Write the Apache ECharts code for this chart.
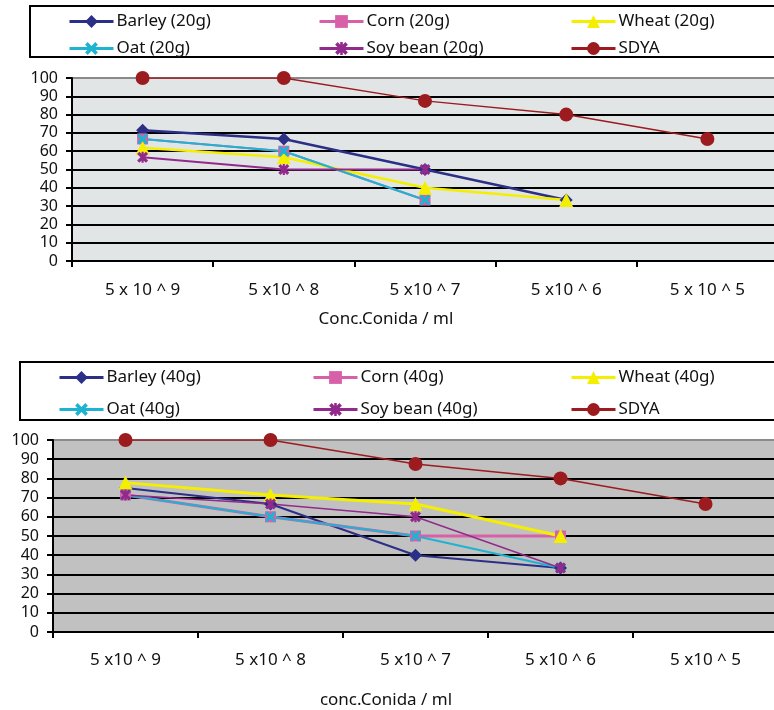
<!DOCTYPE html>
<html>
<head>
<meta charset="utf-8">
<script src="https://cdn.jsdelivr.net/npm/echarts@6/dist/echarts.min.js"></script>
<style>html,body{margin:0;padding:0;background:#fff}#c{width:774px;height:710px}</style>
</head>
<body>
<div id="c"></div>
<script>
const catsTop = ['5 x 10 ^ 9','5 x10 ^ 8','5 x10 ^ 7','5 x10 ^ 6','5 x 10 ^ 5'];
const catsBottom = ['5 x10 ^ 9','5 x10 ^ 8','5 x10 ^ 7','5 x10 ^ 6','5 x10 ^ 5'];
const yTicks = [0,10,20,30,40,50,60,70,80,90,100];

const barley20 = [71.4, 66.7, 50, 33.3, null];
const corn20   = [66.7, 60, 33.3, null, null];
const wheat20  = [61.9, 56.7, 40, 33.3, null];
const oat20    = [66.7, 60, 33.3, null, null];
const soy20    = [56.7, 50, 50, null, null];
const sdya20   = [100, 100, 87.5, 80, 66.7];

const barley40 = [75, 66.7, 40, 33.3, null];
const corn40   = [71.4, 60, 50, 50, null];
const wheat40  = [77.8, 71.4, 66.7, 50, null];
const oat40    = [71.4, 60, 50, 33.3, null];
const soy40    = [71.4, 66.7, 60, 33.3, null];
const sdya40   = [100, 100, 87.5, 80, 66.7];

const FONT = "'Noto Sans', 'Liberation Sans', sans-serif";
const C = {barley:'#2b2f86', corn:'#d860a8', wheat:'#f4ef00', oat:'#1fb3d2', soy:'#922a8c', sdya:'#9b1b1f'};
const X_PATH = 'path://M2,0 L5,3 L8,0 L10,2 L7,5 L10,8 L8,10 L5,7 L2,10 L0,8 L3,5 L0,2 Z';
const AST_PATH = 'path://M2,0 L5,3 L8,0 L10,2 L7,5 L10,8 L8,10 L5,7 L2,10 L0,8 L3,5 L0,2 Z M4,0 L6,0 L6,10 L4,10 Z';

function mk(name, data, idx, color, symbol, size, width) {
  return {
    name, type:'line', data, xAxisIndex: idx, yAxisIndex: idx,
    symbol, symbolSize: size, showSymbol: true,
    lineStyle:{color, width}, itemStyle:{color, borderWidth:0},
    connectNulls:false, animation:false
  };
}

function xAxis(idx, cats, margin) {
  return {
    type:'category', gridIndex: idx, data: cats, boundaryGap:true,
    axisLine:{show:true, lineStyle:{color:'#000', width:2}},
    axisTick:{show:true, inside:false, length:6, lineStyle:{color:'#000', width:2}},
    axisLabel:{color:'#111', fontSize:17, fontFamily:FONT, margin},
    splitLine:{show:false}
  };
}
function yAxis(idx, margin) {
  const cols = yTicks.map((v,i)=> i===yTicks.length-1 ? '#8a8a8a' : '#000');
  return {
    type:'value', gridIndex: idx, min: yTicks[0], max: yTicks[yTicks.length-1], interval: 10,
    axisLine:{show:true, lineStyle:{color:'#000', width:2}},
    axisTick:{show:true, inside:false, length:6, lineStyle:{color:'#000', width:2}},
    axisLabel:{color:'#111', fontSize:16, fontFamily:FONT, margin},
    splitLine:{show:true, lineStyle:{color: cols, width:2}}
  };
}
function legend(left, top, gap, names) {
  return {
    left, top, orient:'vertical', itemGap: gap, itemWidth:44, itemHeight:16, padding:0,
    data: names, selectedMode:false,
    lineStyle:{width:3},
    textStyle:{color:'#111', fontSize:17, fontFamily:FONT, padding:[0,0,0,-2]}
  };
}

const chart = echarts.init(document.getElementById('c'), null, {renderer:'canvas'});
chart.setOption({
  animation:false,
  backgroundColor:'#fff',
  grid:[
    {left:72, top:78, width:706, height:183, outerBoundsMode:'none', containLabel:false, show:true, backgroundColor:'#e2e5e6', borderWidth:0},
    {left:53, top:440, width:725, height:192, outerBoundsMode:'none', containLabel:false, show:true, backgroundColor:'#c1c1c1', borderWidth:0}
  ],
  xAxis:[xAxis(0, catsTop, 21), xAxis(1, catsBottom, 20)],
  yAxis:[yAxis(0, 14), yAxis(1, 14)],
  legend:[
    legend(68, 13, 10, ['Barley (20g)','Oat (20g)']),
    legend(318, 13, 10, ['Corn (20g)','Soy bean (20g)']),
    legend(570, 13, 10, ['Wheat (20g)','SDYA']),
    legend(58, 369, 15, ['Barley (40g)','Oat (40g)']),
    legend(312, 369, 15, ['Corn (40g)','Soy bean (40g)']),
    legend(570, 369, 15, ['Wheat (40g)','SDYA'])
  ],
  graphic:[
    {type:'rect', shape:{x:30, y:6, width:800, height:51}, style:{fill:'none', stroke:'#000', lineWidth:2}, z:-1},
    {type:'rect', shape:{x:20, y:362, width:800, height:58}, style:{fill:'none', stroke:'#000', lineWidth:2}, z:-1},
    {type:'text', x:386, y:319, style:{text:'Conc.Conida / ml', font:'17px '+FONT, fill:'#111', textAlign:'center', textVerticalAlign:'middle'}},
    {type:'text', x:386, y:700, style:{text:'conc.Conida / ml', font:'17px '+FONT, fill:'#111', textAlign:'center', textVerticalAlign:'middle'}}
  ],
  series:[
    mk('Barley (20g)', barley20, 0, C.barley, 'diamond', 13, 2.5),
    mk('Corn (20g)', corn20, 0, C.corn, 'rect', 11, 2),
    mk('Wheat (20g)', wheat20, 0, C.wheat, 'triangle', 14, 2.5),
    mk('Oat (20g)', oat20, 0, C.oat, X_PATH, 11, 2),
    mk('Soy bean (20g)', soy20, 0, C.soy, AST_PATH, 11, 2),
    mk('SDYA', sdya20, 0, C.sdya, 'circle', 14, 1.5),
    mk('Barley (40g)', barley40, 1, C.barley, 'diamond', 13, 2),
    mk('Corn (40g)', corn40, 1, C.corn, 'rect', 11, 3),
    mk('Wheat (40g)', wheat40, 1, C.wheat, 'triangle', 14, 3),
    mk('Oat (40g)', oat40, 1, C.oat, X_PATH, 11, 2),
    mk('Soy bean (40g)', soy40, 1, C.soy, AST_PATH, 11, 1.5),
    mk('SDYA', sdya40, 1, C.sdya, 'circle', 14, 1.5)
  ]
});
</script>
</body>
</html>
